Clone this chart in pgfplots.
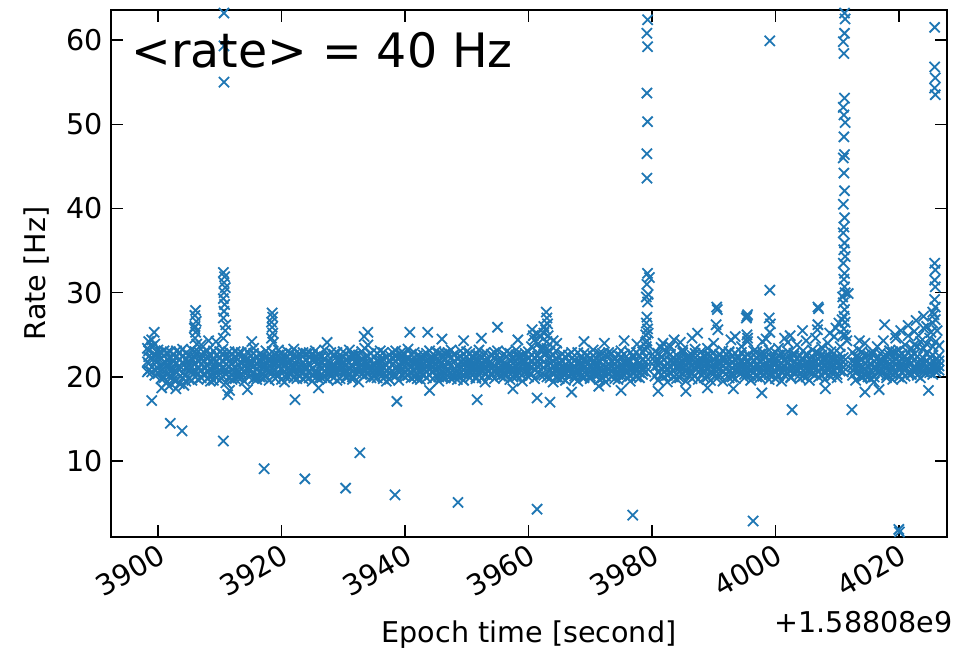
\documentclass[border=0pt]{standalone}
\usepackage{fontspec}
\setmainfont{DejaVu Sans}
\usepackage{pgfplots}
\usepackage{pgfplotstable}
\pgfplotsset{compat=1.18}
\definecolor{mplblue}{HTML}{1F77B4}
\pgfplotstableread{
x a b c d e
3898.5 21.6 23.1 20.8 22.4 24.2
3899.0 22.3 20.6 23.6 21.2 24.4
3899.5 21.9 23.9 20.9 22.7 20.2
3900.0 22.8 21.0 23.2 20.4 21.9
3900.5 21.4 19.8 22.9 20.7 22.2
3901.0 20.6 22.5 19.9 23.1 21.5
3901.5 22.1 20.3 21.5 19.4 22.9
3902.0 21.0 23.0 20.2 22.2 21.6
3902.5 19.7 21.8 22.6 20.9 20.3
3903.0 22.4 20.5 19.6 21.6 23.1
3903.5 20.9 22.9 21.3 19.2 22.1
3904.0 21.7 19.9 23.3 20.4 22.5
3904.5 20.2 22.0 21.1 22.8 19.5
3905.0 22.6 20.8 19.8 21.9 21.3
3905.5 21.2 23.2 20.6 19.6 22.2
3906.0 20.5 21.6 22.3 20.0 23.0
3906.5 22.0 19.7 21.0 23.0 20.4
3907.0 20.8 22.7 19.9 21.5 22.1
3907.5 21.9 20.4 22.9 20.2 21.2
3908.0 19.8 21.3 20.7 22.4 23.1
3908.5 22.5 20.1 21.8 19.5 21.0
3909.0 21.1 23.1 20.3 22.0 19.6
3909.5 20.4 21.9 22.6 19.9 21.2
3910.0 22.2 19.6 21.4 20.8 23.0
3910.5 21.0 22.8 20.1 23.3 21.9
3911.0 20.3 21.5 22.4 19.3 20.9
3911.5 21.8 20.0 23.0 21.2 22.4
3912.0 22.7 20.9 19.7 21.6 20.3
3912.5 20.6 22.3 21.1 19.8 23.0
3913.0 21.5 19.9 22.8 20.5 22.1
3913.5 19.9 21.7 20.4 22.9 21.0
3914.0 22.3 20.6 21.9 19.5 21.2
3914.5 21.1 23.0 20.2 22.1 21.6
3915.0 20.2 21.4 22.5 20.9 21.9
3915.5 22.8 19.8 21.3 23.4 20.5
3916.0 21.6 22.4 20.0 19.7 21.0
3916.5 20.0 21.2 22.7 21.8 20.6
3917.0 22.1 20.3 19.9 22.5 21.2
3917.5 21.3 23.1 20.8 20.1 22.3
3918.0 20.7 21.9 22.2 19.6 21.3
3918.5 22.4 20.5 21.0 23.0 21.7
3919.0 19.8 22.6 21.7 20.3 20.9
3919.5 21.9 20.2 23.2 21.4 22.6
3920.0 20.9 22.1 19.7 22.8 21.5
3920.5 22.2 20.7 21.5 19.4 20.1
3921.0 21.0 23.0 20.1 22.4 21.7
3921.5 20.3 21.8 22.8 20.9 21.3
3922.0 22.6 19.9 21.2 23.3 20.6
3922.5 21.4 22.5 20.4 19.8 21.9
3923.0 20.1 21.1 22.1 20.6 22.7
3923.5 22.9 20.6 19.8 21.7 21.2
3924.0 21.2 22.8 20.9 20.0 22.1
3924.5 19.9 21.5 22.4 22.9 20.7
3925.0 22.0 20.2 21.0 19.5 22.6
3925.5 20.7 23.1 21.9 20.4 22.4
3926.0 21.6 19.8 22.6 22.2 20.5
3926.5 22.4 21.0 20.3 19.9 21.6
3927.0 20.0 22.2 21.4 23.2 20.7
3927.5 21.8 20.4 19.7 21.1 22.5
3928.0 20.5 21.7 22.9 20.2 21.1
3928.5 22.7 19.9 21.2 22.5 20.6
3929.0 21.1 22.9 20.6 19.6 22.0
3929.5 19.8 21.3 22.2 20.8 21.8
3930.0 22.3 20.7 21.6 23.0 21.1
3930.5 21.5 22.1 19.9 20.1 20.8
3931.0 20.2 23.2 21.0 22.4 21.7
3931.5 22.5 20.0 22.7 19.7 21.2
3932.0 21.0 21.9 20.5 21.8 22.6
3932.5 20.6 22.6 21.8 19.4 21.2
3933.0 22.1 20.3 23.0 20.9 21.5
3933.5 21.7 23.4 20.2 22.3 20.9
3934.0 20.4 21.6 22.5 23.8 21.0
3934.5 22.8 20.8 21.3 19.9 22.0
3935.0 21.3 22.4 20.0 21.5 20.7
3935.5 19.9 21.1 22.8 20.6 21.9
3936.0 22.0 20.5 21.6 23.1 21.1
3936.5 21.2 22.9 19.8 20.3 22.1
3937.0 20.8 21.4 22.3 19.5 20.2
3937.5 22.6 19.7 21.0 22.0 20.4
3938.0 21.4 22.2 20.7 20.2 22.9
3938.5 20.1 21.0 23.1 21.9 22.4
3939.0 22.3 20.6 21.5 19.6 21.0
3939.5 21.0 23.0 20.3 22.6 21.7
3940.0 20.5 21.8 22.0 20.0 22.7
3940.5 22.1 20.2 21.4 23.3 20.8
3941.0 21.3 22.7 19.9 20.6 22.0
3941.5 20.0 21.5 22.9 21.8 20.7
3942.0 22.5 19.8 21.1 20.3 21.7
3942.5 21.6 22.4 20.5 19.7 21.0
3943.0 20.3 21.0 22.6 22.2 21.6
3943.5 22.8 20.6 21.9 19.9 21.3
3944.0 21.0 23.1 20.2 21.4 22.2
3944.5 19.8 21.7 22.3 20.7 21.2
3945.0 22.4 20.1 21.6 23.0 20.9
3945.5 21.1 22.8 20.0 19.5 21.8
3946.0 20.6 21.2 22.7 21.7 20.0
3946.5 22.2 19.9 21.3 20.4 22.8
3947.0 21.5 22.5 20.8 22.9 20.2
3947.5 20.2 21.4 23.2 19.8 22.3
3948.0 22.7 20.5 21.0 21.9 20.0
3948.5 21.2 22.2 19.7 20.1 20.7
3949.0 20.4 21.8 22.4 23.1 21.2
3949.5 22.0 20.3 21.6 19.6 20.9
3950.0 21.7 23.0 20.4 21.2 22.4
3950.5 19.9 21.1 22.8 20.5 21.7
3951.0 22.5 20.7 21.2 22.3 21.7
3951.5 21.4 22.6 19.8 20.0 20.7
3952.0 20.7 21.3 22.5 23.2 21.9
3952.5 22.3 19.9 21.7 20.8 21.2
3953.0 21.0 22.9 20.3 19.4 22.0
3953.5 20.1 21.6 22.1 21.5 20.8
3954.0 22.6 20.4 21.0 22.7 21.5
3954.5 21.3 22.3 20.6 19.8 22.9
3955.0 20.5 21.0 23.1 20.9 21.8
3955.5 22.1 20.1 21.8 22.2 20.9
3956.0 21.6 22.7 19.9 20.3 21.0
3956.5 20.3 21.4 22.4 23.0 20.9
3957.0 22.8 20.8 21.2 19.7 22.0
3957.5 21.1 22.1 20.0 21.6 20.6
3958.0 20.0 23.2 22.6 20.4 21.4
3958.5 22.4 20.5 21.5 22.5 21.0
3959.0 21.5 21.9 20.2 19.5 22.6
3959.5 20.6 22.8 21.9 20.7 21.3
3960.0 22.2 20.0 23.0 21.3 20.6
3960.5 21.8 23.6 20.4 22.6 21.2
3961.0 20.9 22.3 24.4 19.8 21.6
3961.5 22.5 20.6 21.3 23.9 25.1
3962.0 21.4 24.8 22.1 20.2 23.3
3962.5 20.2 22.7 23.4 21.1 26.0
3963.0 22.9 21.5 20.0 24.2 23.4
3963.5 21.6 23.0 22.2 19.9 20.7
3964.0 20.5 21.3 22.6 19.4 21.9
3964.5 22.1 20.0 21.0 23.1 20.6
3965.0 21.0 22.4 19.8 20.6 21.7
3965.5 19.9 21.1 22.7 21.8 20.5
3966.0 22.4 20.4 21.4 19.6 21.0
3966.5 21.2 22.6 20.2 20.9 21.8
3967.0 20.3 21.6 22.9 22.2 21.0
3967.5 22.0 19.8 21.1 20.1 20.6
3968.0 20.8 22.9 20.6 19.5 21.7
3968.5 21.7 20.5 22.3 21.4 20.1
3969.0 20.0 21.9 19.9 22.8 21.1
3969.5 22.6 20.8 21.5 20.3 21.9
3970.0 21.3 22.2 20.1 19.8 20.7
3970.5 20.4 21.0 22.5 23.2 21.7
3971.0 22.2 20.2 21.7 20.5 21.1
3971.5 21.0 22.8 19.7 21.9 20.4
3972.0 19.9 21.4 22.1 20.7 22.8
3972.5 22.5 20.1 21.2 19.4 20.7
3973.0 21.5 22.5 20.4 22.9 21.0
3973.5 20.6 21.2 22.8 20.0 21.8
3974.0 22.1 19.8 21.0 21.6 20.4
3974.5 21.1 22.6 20.3 19.7 21.8
3975.0 20.2 21.5 22.4 23.1 20.9
3975.5 22.7 20.7 21.6 20.2 21.2
3976.0 21.4 22.0 19.9 21.7 20.6
3976.5 20.1 21.1 22.9 19.5 21.9
3977.0 22.3 20.4 21.3 22.6 21.0
3977.5 21.0 22.9 20.0 20.8 21.8
3978.0 20.5 21.7 22.5 19.9 21.1
3978.5 22.0 20.3 21.1 23.0 20.7
3979.0 21.2 22.4 20.6 21.8 23.2
3980.5 21.9 20.1 23.0 22.4 21.2
3981.0 20.6 22.8 21.4 19.6 21.9
3981.5 22.4 21.0 20.2 23.5 21.7
3982.0 21.1 23.2 22.1 20.0 20.6
3982.5 20.2 21.6 22.9 19.4 21.0
3983.0 22.7 20.5 21.2 23.6 21.9
3983.5 21.5 22.3 20.0 21.8 20.7
3984.0 20.3 21.1 22.6 19.8 21.8
3984.5 22.2 19.9 21.7 20.6 21.1
3985.0 21.0 22.9 20.4 23.2 21.7
3985.5 20.8 21.4 22.3 19.5 21.9
3986.0 22.5 20.2 21.0 21.9 20.6
3986.5 21.3 22.6 19.8 20.4 21.9
3987.0 20.1 21.8 22.8 23.3 21.1
3987.5 22.0 20.6 21.5 19.7 21.1
3988.0 21.6 23.0 20.3 22.1 20.9
3988.5 19.9 21.2 22.4 20.8 21.8
3989.0 22.6 20.0 21.8 23.4 20.9
3989.5 21.2 22.5 20.5 19.6 21.8
3990.0 20.4 21.5 22.9 24.0 21.0
3990.5 22.3 19.8 21.1 20.2 21.7
3991.0 21.0 22.7 20.2 22.6 21.6
3991.5 20.6 21.3 23.1 19.5 22.1
3992.0 22.1 20.4 21.6 21.0 22.7
3992.5 21.4 22.9 19.9 23.0 20.7
3993.0 20.0 21.1 22.5 20.5 21.8
3993.5 22.8 20.7 21.3 19.8 22.0
3994.0 21.1 22.2 20.6 22.4 21.6
3994.5 20.5 21.7 22.9 23.6 21.1
3995.0 22.4 19.9 21.0 20.3 21.6
3995.5 21.7 22.6 20.3 24.2 21.0
3996.0 20.2 21.4 22.3 19.6 20.8
3996.5 22.0 20.6 21.9 23.1 21.2
3997.0 21.3 23.0 20.0 21.5 22.2
3997.5 20.7 21.2 22.7 19.9 21.9
3998.0 22.6 20.1 21.4 22.9 20.8
3998.5 21.0 22.4 20.5 24.5 21.7
3999.0 20.3 21.8 23.2 19.7 21.0
3999.5 22.2 20.4 21.1 22.3 21.6
4000.0 21.5 22.9 19.8 20.6 22.2
4000.5 20.1 21.3 22.6 23.4 21.9
4001.0 22.7 20.7 21.6 19.5 21.1
4001.5 21.2 22.1 20.2 21.9 20.7
4002.0 20.4 21.6 23.0 24.1 22.3
4002.5 22.3 19.9 21.3 20.0 20.7
4003.0 21.1 22.8 20.6 22.5 21.7
4003.5 20.6 21.0 22.2 23.8 21.6
4004.0 22.5 20.3 21.8 19.8 21.1
4004.5 21.4 23.1 20.1 22.0 20.8
4005.0 20.0 21.5 22.7 24.3 21.0
4005.5 22.1 20.5 21.0 19.6 21.6
4006.0 21.7 22.4 20.4 23.2 21.1
4006.5 20.3 21.2 22.9 24.6 21.8
4007.0 22.8 20.0 21.5 20.7 22.1
4007.5 21.0 22.6 20.2 23.5 21.7
4008.0 20.5 21.9 22.4 19.7 21.2
4008.5 22.4 20.8 21.2 24.0 21.8
4009.0 21.2 23.0 20.0 22.2 20.6
4009.5 20.8 21.4 22.8 24.8 22.1
4010.0 22.0 20.3 21.6 19.9 21.0
4010.5 21.5 22.7 20.7 23.6 22.1
4011.0 20.6 21.8 22.3 25.0 21.2
4012.5 21.8 20.2 22.9 21.3 20.8
4013.0 20.5 22.4 21.0 19.6 21.7
4013.5 22.3 20.8 21.7 23.2 21.2
4014.0 21.1 23.0 20.1 19.9 22.1
4014.5 20.2 21.6 22.6 24.0 21.0
4015.0 22.6 20.4 21.3 20.0 21.9
4015.5 21.4 22.2 19.8 22.8 20.7
4016.0 20.0 21.1 22.9 19.4 21.9
4016.5 22.2 20.6 21.5 23.6 21.0
4017.0 21.6 22.8 20.3 20.7 22.1
4017.5 20.7 21.3 22.4 24.3 21.8
4018.0 22.5 19.9 21.1 20.2 21.7
4018.5 21.0 22.6 20.6 23.1 21.6
4019.0 20.3 21.8 23.0 19.7 21.1
4019.5 22.1 20.5 21.4 24.6 23.0
4020.0 21.3 23.2 20.0 21.9 22.5
4020.5 20.6 21.5 22.7 19.8 21.1
4021.0 22.4 20.1 21.9 23.8 21.2
4021.5 21.2 22.9 20.4 24.9 21.8
4022.0 20.4 21.7 23.4 20.3 22.5
4022.5 22.7 20.9 21.2 25.4 23.8
4023.0 21.5 23.6 20.2 22.4 20.9
4023.5 20.9 22.1 24.2 19.9 21.5
4024.0 22.2 20.6 21.6 25.8 23.4
4024.5 21.1 23.9 20.5 22.8 21.8
4025.0 20.5 22.3 24.6 21.0 21.6
4025.5 22.6 21.0 20.3 26.4 23.6
4026.0 21.4 24.2 22.0 20.6 21.0
4026.5 20.8 22.5 21.3 23.7 21.9
}\band
\pgfplotstableread{
x y
3898.3 21.8
3898.3 23.4
3898.3 20.6
3899.0 17.2
3899.4 25.3
3902.0 14.5
3903.9 13.6
3900.6 18.7
3901.8 18.9
3902.9 18.6
3904.2 19.0
3906.0 24.6
3906.1 25.3
3906.0 26.0
3906.2 26.6
3906.0 27.3
3906.1 27.9
3905.9 25.8
3906.3 23.9
3908.2 24.3
3907.0 23.8
3910.6 27.0
3910.7 27.8
3910.8 28.6
3910.6 29.3
3910.7 30.0
3910.9 30.6
3910.7 31.2
3910.8 31.9
3910.6 32.4
3911.0 26.2
3910.9 25.5
3910.6 24.6
3910.7 55.0
3910.7 59.3
3910.7 63.2
3910.6 12.4
3911.3 17.9
3911.6 18.4
3909.4 24.2
3918.4 24.6
3918.6 25.2
3918.5 25.9
3918.4 26.5
3918.6 27.1
3918.5 27.6
3918.7 24.1
3917.2 9.1
3923.8 7.9
3930.4 6.8
3932.7 11.0
3938.4 6.0
3948.6 5.1
3961.4 4.3
3976.9 3.6
3996.4 2.9
4020.0 1.9
4020.1 1.6
3922.2 17.3
3938.7 17.1
3951.7 17.3
3961.4 17.5
3963.5 17.0
3914.5 18.5
3926.0 18.7
3944.0 18.4
3957.5 18.6
3967.0 18.2
3971.4 18.9
3975.0 18.4
3985.5 18.3
3989.0 18.7
3993.2 18.6
3997.8 18.1
4002.7 16.1
4012.4 16.1
4014.5 18.2
4016.8 18.5
4024.8 18.4
4008.1 18.6
3981.0 18.3
3915.2 24.2
3927.4 24.1
3934.0 25.3
3933.4 24.8
3940.8 25.3
3943.7 25.3
3946.0 24.5
3949.5 24.3
3955.0 25.9
3952.4 24.6
3958.3 24.4
3960.6 25.6
3960.8 24.9
3962.9 27.7
3963.0 27.0
3963.1 26.3
3962.8 25.6
3963.2 24.9
3962.5 25.2
3964.0 24.3
3964.6 24.0
3969.0 24.2
3972.3 24.0
3975.5 24.3
3977.6 23.9
3979.1 23.6
3979.2 24.3
3979.0 25.0
3979.3 25.7
3979.1 26.4
3979.2 27.1
3979.4 25.2
3979.0 24.1
3979.3 28.9
3979.1 29.5
3979.4 29.8
3979.2 31.0
3979.3 32.3
3979.6 31.8
3979.2 43.6
3979.2 46.5
3979.3 50.3
3979.2 53.7
3979.3 59.2
3979.2 60.8
3979.3 62.4
3981.8 24.0
3983.6 24.4
3984.6 24.1
3986.5 24.6
3987.4 25.2
3990.5 28.3
3990.6 28.0
3990.7 25.6
3990.4 26.2
3992.8 24.4
3993.5 24.8
3995.4 27.2
3995.5 27.4
3995.3 27.0
3995.4 25.0
3995.5 24.6
3997.9 24.2
3999.1 59.9
3999.1 30.3
3999.0 27.0
3999.2 26.3
3999.1 25.3
4001.5 24.6
4002.4 24.9
4004.4 25.5
4006.9 28.3
4007.0 28.1
4006.8 25.6
4006.9 26.2
4008.8 25.2
4009.8 25.8
4010.3 26.4
4011.2 63.2
4011.3 62.5
4011.2 60.8
4011.0 59.8
4011.1 58.4
4011.2 53.1
4011.0 52.0
4011.1 51.1
4011.3 50.2
4011.1 48.5
4011.2 46.4
4011.0 46.0
4011.1 44.2
4011.2 42.1
4011.0 40.5
4011.2 38.9
4011.1 37.8
4011.0 37.1
4011.2 35.9
4011.1 35.1
4011.3 34.3
4011.0 33.5
4011.2 32.3
4011.1 31.6
4011.2 30.7
4010.9 29.5
4011.3 30.0
4011.0 28.8
4011.2 28.0
4011.1 27.2
4011.3 26.5
4010.8 26.8
4011.1 25.7
4011.4 24.9
4011.8 29.9
4011.6 24.3
4017.7 26.2
4013.6 24.3
4019.4 25.0
4020.3 25.5
4021.5 26.1
4022.8 26.7
4023.2 24.9
4024.0 27.2
4024.5 26.0
4025.2 25.3
4025.5 27.7
4025.9 26.8
4026.2 25.5
4025.8 61.5
4025.8 56.8
4025.9 55.5
4025.8 54.3
4025.9 53.5
4025.8 33.5
4025.9 32.7
4025.8 31.5
4025.9 30.7
4025.8 29.2
4025.9 28.3
4025.7 27.4
}\outliers
\begin{document}
\begin{tikzpicture}
\begin{axis}[
  scale only axis, width=418bp, height=263.5bp,
  xmin=3892.4, xmax=4027.8, ymin=1.0, ymax=63.56,
  xtick={3900,3920,3940,3960,3980,4000,4020},
  xticklabels={3900,3920,3940,3960,3980,4000,4020},
  ytick={10,20,30,40,50,60},
  yticklabels={10,20,30,40,50,60},
  tick align=inside, tick pos=both,
  major tick length=6bp,
  every tick/.style={black, line width=0.7bp},
  axis line style={line width=0.8bp},
  ticklabel style={font=\fontsize{14.3bp}{17bp}\selectfont},
  xticklabel style={rotate=30, anchor=north east, inner sep=2bp},
  yticklabel style={inner sep=4bp},
  mk/.style={only marks, mark=x, mark size=3.6bp, color=mplblue, line width=0.9bp},
]
\addplot[mk] table[x=x,y=a]{\band};
\addplot[mk] table[x=x,y=b]{\band};
\addplot[mk] table[x=x,y=c]{\band};
\addplot[mk] table[x=x,y=d]{\band};
\addplot[mk] table[x=x,y=e]{\band};
\addplot[mk] table[x=x,y=y]{\outliers};
\end{axis}
\node[anchor=base west, inner sep=0pt, font=\fontsize{23.7bp}{28bp}\selectfont] at (10bp,234.5bp) {<rate> = 40 Hz};
\node[anchor=base, rotate=90, font=\fontsize{14.3bp}{17bp}\selectfont] at (-33bp,131.75bp) {Rate [Hz]};
\node[anchor=base, font=\fontsize{14.3bp}{17bp}\selectfont] at (209bp,-52.5bp) {Epoch time [second]};
\node[anchor=base east, font=\fontsize{14.3bp}{17bp}\selectfont, inner sep=0pt] at (421bp,-47.5bp) {+1.58808e9};
\pgfresetboundingbox
\path (-55.5bp,-56bp) rectangle (426bp,268.5bp);
\end{tikzpicture}
\end{document}
